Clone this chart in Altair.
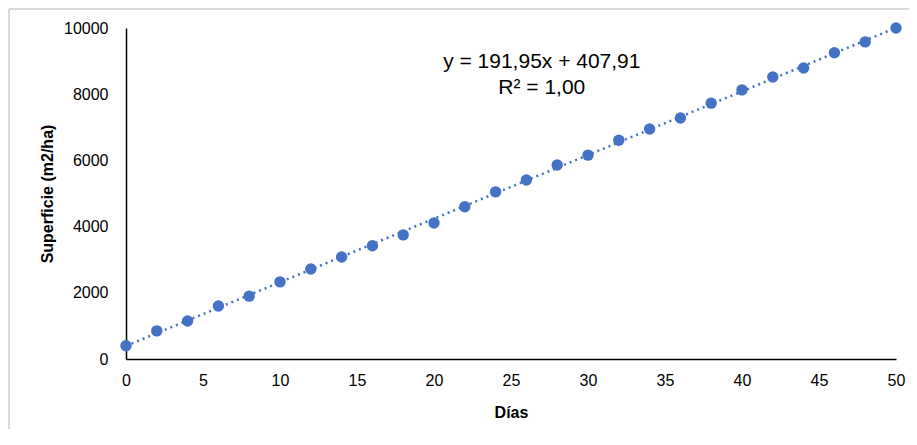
import altair as alt
import pandas as pd

# Data
dias = [0, 2, 4, 6, 8, 10, 12, 14, 16, 18, 20, 22, 24, 26, 28, 30,
        32, 34, 36, 38, 40, 42, 44, 46, 48, 50]
superficie = [400, 850, 1150, 1600, 1900, 2330, 2720, 3080, 3420, 3750,
              4110, 4600, 5050, 5410, 5860, 6160, 6610, 6950, 7280, 7730,
              8130, 8520, 8790, 9250, 9580, 10000]

eq_lines = ["y = 191,95x + 407,91", "R² = 1,00"]
eq_x = [27, 27]
eq_y = [8790, 8000]

x_ticks = [0, 5, 10, 15, 20, 25, 30, 35, 40, 45, 50]
y_ticks = [0, 2000, 4000, 6000, 8000, 10000]

BLUE = "#4472C4"
FONT = "Liberation Sans"
W, H = 770, 331
PL, PT, PR, PB = 118, 20, 13, 70

df = pd.DataFrame({"Días": dias, "Superficie": superficie})
eq_df = pd.DataFrame({"t": eq_lines, "x": eq_x, "y": eq_y})

xs = alt.Scale(domain=[0, 50], nice=False)
ys = alt.Scale(domain=[0, 10000], nice=False)

base = alt.Chart(df)

points = base.mark_circle(size=130, color=BLUE, opacity=1).encode(
    x=alt.X("Días:Q", scale=xs,
            axis=alt.Axis(values=x_ticks, title="Días", titleX=W / 2, titleY=53,
                          titleBaseline="middle", labelPadding=13, labelFlush=False)),
    y=alt.Y("Superficie:Q", scale=ys,
            axis=alt.Axis(values=y_ticks, format="d", title="Superficie (m2/ha)",
                          titleX=-79, titleY=H / 2, titleAngle=270,
                          titleBaseline="middle", titleAlign="center",
                          labelPadding=18, labelFlush=False)),
)

trend = base.transform_regression("Días", "Superficie", extent=[0, 50]).mark_line(
    color=BLUE, strokeDash=[2, 4], strokeWidth=2.5
).encode(x=alt.X("Días:Q", scale=xs), y=alt.Y("Superficie:Q", scale=ys))

eq = alt.Chart(eq_df).mark_text(
    font=FONT, fontSize=21, color="#000000", align="center", baseline="alphabetic"
).encode(x=alt.X("x:Q", scale=xs), y=alt.Y("y:Q", scale=ys), text="t:N")

frame_top = alt.Chart(df).mark_rule(color="#d9d9d9", strokeWidth=1.5).encode(
    x=alt.value(-PL + 1), x2=alt.value(W + PR), y=alt.value(-PT + 1)
)
frame_left = alt.Chart(df).mark_rule(color="#d9d9d9", strokeWidth=1.5).encode(
    x=alt.value(-PL + 1), y=alt.value(-PT + 1), y2=alt.value(H + PB)
)

chart = alt.layer(frame_top, frame_left, trend, points, eq).properties(
    width=W, height=H,
    background="white",
    autosize=alt.AutoSizeParams(type="none"),
    padding={"left": PL, "top": PT, "right": PR, "bottom": PB},
).configure_view(stroke=None).configure_axis(
    grid=False, ticks=False, domainColor="#000000", domainWidth=1.5,
    labelFont=FONT, labelFontSize=16, labelColor="#000000",
    titleFont=FONT, titleFontSize=16, titleFontWeight="bold", titleColor="#000000",
)

chart.save("out.html", embed_options={"renderer": "svg", "actions": False})
